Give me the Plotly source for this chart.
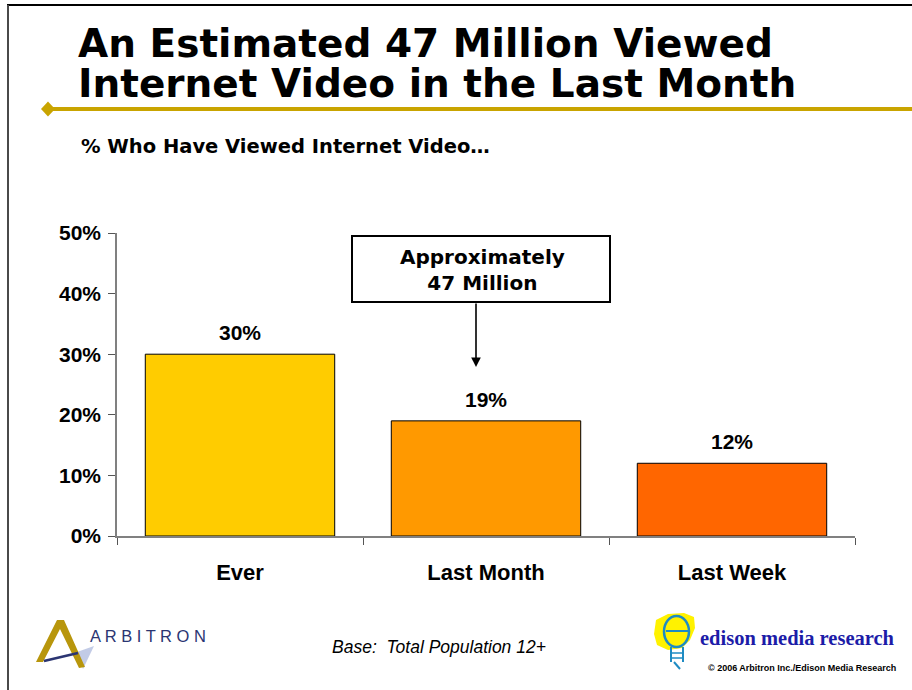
import plotly.graph_objects as go

# Survey results: share of people 12+ who have viewed internet video
categories = ["Ever", "Last Month", "Last Week"]
values = [30, 19, 12]
bar_colors = ["#FFCC00", "#FF9900", "#FF6600"]
y_ticks = [0, 10, 20, 30, 40, 50]
y_tick_labels = ["0%", "10%", "20%", "30%", "40%", "50%"]

W, H = 912, 690
# plot area in pixels
PL, PR, PT, PB = 117, 855, 233, 536


def px(x):
    return (x - PL) / (PR - PL)


def py(y):
    return (PB - y) / (PB - PT)


fig = go.Figure()
fig.add_trace(go.Bar(
    x=categories, y=values, width=0.77,
    marker=dict(color=bar_colors, line=dict(color="#000000", width=1)),
    hoverinfo="skip",
))

ann = []
# value labels above the bars
for c, v in zip(categories, values):
    ann.append(dict(x=c, y=v, xref="x", yref="y", text=f"{v}%", showarrow=False,
                    yanchor="bottom", yshift=8,
                    font=dict(family="Liberation Sans, Arial", size=21, color="#000", weight="bold")))

# title (two lines set tighter than the default line height)
title_font = dict(family="DejaVu Sans", size=39, color="#000", weight="bold")
ann.append(dict(x=px(76), y=py(44), xref="paper", yref="paper", text="An Estimated 47 Million Viewed",
                showarrow=False, xanchor="left", yanchor="middle", font=title_font))
ann.append(dict(x=px(76), y=py(84), xref="paper", yref="paper", text="Internet Video in the Last Month",
                showarrow=False, xanchor="left", yanchor="middle", font=title_font))
# subtitle
ann.append(dict(x=px(79), y=py(146), xref="paper", yref="paper", text="% Who Have Viewed Internet Video…",
                showarrow=False, xanchor="left", yanchor="middle",
                font=dict(family="DejaVu Sans", size=19.5, color="#000", weight="bold")))

# callout box text and arrow
ann.append(dict(x=px(482), y=py(270), xref="paper", yref="paper",
                text="Approximately<br>47 Million", showarrow=False,
                xanchor="center", yanchor="middle",
                font=dict(family="DejaVu Sans", size=20, color="#000", weight="bold")))
ann.append(dict(x=px(476), y=py(367), xref="paper", yref="paper", text="",
                showarrow=True, axref="pixel", ayref="pixel", ax=0, ay=-65,
                arrowhead=2, arrowsize=1.2, arrowwidth=1.6, arrowcolor="#000"))

# footer texts
ann.append(dict(x=px(330), y=py(647), xref="paper", yref="paper",
                text="Base:\u00a0 Total Population 12+", showarrow=False,
                xanchor="left", yanchor="middle",
                font=dict(family="Liberation Sans, Arial", size=17.5, color="#000", style="italic")))
ann.append(dict(x=px(88), y=py(636), xref="paper", yref="paper",
                text="A R B I T R O N", showarrow=False, xanchor="left", yanchor="middle",
                font=dict(family="Liberation Sans, Arial", size=16.5, color="#2B3572")))
ann.append(dict(x=px(698), y=py(638), xref="paper", yref="paper",
                text="edison media research", showarrow=False, xanchor="left", yanchor="middle",
                font=dict(family="Liberation Serif, Times New Roman", size=20.5, color="#1C1CA8", weight="bold")))
ann.append(dict(x=px(706), y=py(668), xref="paper", yref="paper",
                text="© 2006 Arbitron Inc./Edison Media Research", showarrow=False,
                xanchor="left", yanchor="middle",
                font=dict(family="Liberation Sans, Arial", size=9, color="#000", weight="bold")))


def pline(x0, y0, x1, y1, color, width):
    return dict(type="line", xref="paper", yref="paper", x0=px(x0), y0=py(y0), x1=px(x1), y1=py(y1),
                line=dict(color=color, width=width))


def ppath(points, fill, line_color=None, width=0, close=True):
    d = "M " + " L ".join(f"{px(a):.5f},{py(b):.5f}" for a, b in points)
    if close:
        d += " Z"
    return dict(type="path", xref="paper", yref="paper", path=d, fillcolor=fill,
                line=dict(color=line_color or "rgba(0,0,0,0)", width=width))


shapes = [
    # page frame
    pline(7, 5, 912, 5, "#000000", 2),
    pline(8, 5, 8, 690, "#4A4A4A", 2),
    # gold rule with diamond
    pline(50, 109, 912, 109, "#C9A400", 4),
    ppath([(41, 109), (48, 101.5), (55, 109), (48, 116.5)], "#C9A400"),
    # callout box
    dict(type="rect", xref="paper", yref="paper", x0=px(352), y0=py(302), x1=px(610), y1=py(236),
         line=dict(color="#000", width=2), fillcolor="#FFFFFF", layer="below"),
    # Arbitron mark
    ppath([(77, 652), (94, 646), (83, 669)], "rgba(120,140,200,0.45)"),
    ppath([(36, 662), (57, 620), (64, 620), (85, 667), (79, 668), (60, 629), (43, 662)], "#B8960C"),
    pline(44, 661, 78, 653, "#2B3572", 2.5),
    # Edison bulb
    ppath([(656, 620), (668, 614), (684, 613), (694, 617), (695, 628), (690, 640), (682, 648),
           (668, 650), (657, 645), (654, 634)], "#FFF200"),
    dict(type="circle", xref="paper", yref="paper", x0=px(664), y0=py(647), x1=px(689), y1=py(616),
         line=dict(color="#1E8BC3", width=2.5), fillcolor="rgba(0,0,0,0)"),
    pline(666, 631, 689, 631, "#1E8BC3", 2),
    pline(671, 647, 671, 662, "#1E8BC3", 2),
    pline(683, 647, 683, 662, "#1E8BC3", 2),
    pline(671, 653, 683, 653, "#1E8BC3", 1.5),
    pline(671, 658, 683, 658, "#1E8BC3", 1.5),
    pline(674, 662, 680, 669, "#1E8BC3", 2),
]

fig.update_layout(
    width=W, height=H, autosize=False,
    margin=dict(l=PL, r=W - PR, t=PT, b=H - PB, pad=0),
    paper_bgcolor="#FFFFFF", plot_bgcolor="#FFFFFF",
    showlegend=False, bargap=0.23,
    annotations=ann, shapes=shapes,
    xaxis=dict(type="category", range=[-0.5, 2.5], tickson="boundaries", ticks="outside",
               ticklen=7, tickcolor="#555", showline=True, linecolor="#808080", linewidth=1.5,
               showgrid=False, ticklabelstandoff=16,
               tickfont=dict(family="Liberation Sans, Arial", size=22, color="#000", weight="bold")),
    yaxis=dict(range=[0, 50], tickvals=y_ticks, ticktext=y_tick_labels, ticks="outside",
               ticklen=7, tickcolor="#555", showline=True, linecolor="#808080", linewidth=1.5,
               showgrid=False, zeroline=False, ticklabelstandoff=3,
               tickfont=dict(family="Liberation Sans, Arial", size=21, color="#000", weight="bold")),
)

fig.write_html("out.html")
